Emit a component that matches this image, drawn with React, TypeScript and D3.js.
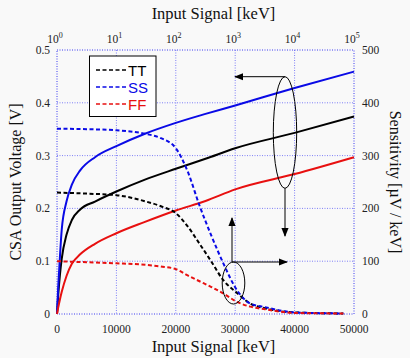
import React from 'react'
import * as d3 from 'd3'

// CSA output voltage [V] vs. input signal [keV] (linear, bottom/left axes)
const inputKeV = [0, 200, 500, 800, 1600, 2500, 3900, 6400, 10000, 14700, 20000, 25000, 30000, 40000, 50000]
const voltTT = [0, 0.035, 0.075, 0.105, 0.15, 0.178, 0.198, 0.213, 0.232, 0.254, 0.275, 0.294, 0.314, 0.343, 0.374]
const voltSS = [0, 0.05, 0.11, 0.16, 0.213, 0.245, 0.272, 0.297, 0.318, 0.341, 0.362, 0.379, 0.395, 0.428, 0.459]
const voltFF = [0, 0.012, 0.028, 0.042, 0.072, 0.095, 0.113, 0.133, 0.153, 0.174, 0.196, 0.214, 0.236, 0.265, 0.297]

// Sensitivity [uV/keV] vs. input signal (log, top/right axes), exponent of 10
const inputExp = [0, 0.5, 1, 1.5, 1.75, 2, 2.2, 2.4, 2.6, 2.8, 3.03, 3.25, 3.5, 4, 4.82]
const sensTT = [230, 228, 225, 213, 204, 191, 166, 133, 99, 64, 40, 20, 11, 3, 1]
const sensSS = [351, 350, 348, 341, 333, 314, 270, 205, 148, 96, 45, 20, 13, 3, 1]
const sensFF = [100, 98, 96, 93, 90, 85, 73, 62, 51, 39, 23, 14, 9, 2, 1]

const corners = ['TT', 'SS', 'FF']
const bottomTicks = [0, 10000, 20000, 30000, 40000, 50000]
const leftTicks = [0, 0.1, 0.2, 0.3, 0.4, 0.5]
const rightTicks = [0, 100, 200, 300, 400, 500]
const topExps = [0, 1, 2, 3, 4, 5]

const colors: Record<string, string> = { TT: '#000000', SS: '#0a0ae6', FF: '#e81010' }
const serif = '"Liberation Serif", "DejaVu Serif", serif'
const sans = '"Liberation Sans", Arial, sans-serif'

export default function App() {
  const width = 410
  const height = 358
  const m = { left: 57, right: 354, top: 50, bottom: 314 }

  const x = d3.scaleLinear().domain([0, 50000]).range([m.left, m.right])
  const xLog = d3.scaleLog().domain([1, 1e5]).range([m.left, m.right])
  const yL = d3.scaleLinear().domain([0, 0.5]).range([m.bottom, m.top])
  const yR = d3.scaleLinear().domain([0, 500]).range([m.bottom, m.top])

  const solid = d3.line<[number, number]>()
    .x(d => x(d[0])).y(d => yL(d[1])).curve(d3.curveMonotoneX)
  const dashed = d3.line<[number, number]>()
    .x(d => xLog(Math.pow(10, d[0]))).y(d => yR(d[1])).curve(d3.curveMonotoneX)

  const volts: Record<string, number[]> = { TT: voltTT, SS: voltSS, FF: voltFF }
  const sens: Record<string, number[]> = { TT: sensTT, SS: sensSS, FF: sensFF }
  const grid = '#7f7ff5'

  return (
    <svg width={width} height={height} style={{ position: 'absolute', left: 0, top: 0, background: '#f9f9f9' }}>
      <rect x={0} y={0} width={width} height={height} fill="#f9f9f9" />
      <defs>
        <marker id="arr" viewBox="0 0 10 10" refX={9} refY={5} markerWidth={9} markerHeight={9}
          markerUnits="userSpaceOnUse" orient="auto">
          <path d="M0,1 L10,5 L0,9 z" fill="#000" />
        </marker>
      </defs>

      {/* grid */}
      {bottomTicks.slice(1, -1).map(t => (
        <line key={'gx' + t} x1={x(t)} x2={x(t)} y1={m.top} y2={m.bottom}
          stroke={grid} strokeWidth={1} strokeDasharray="1,1.5" />
      ))}
      {leftTicks.slice(1, -1).map(t => (
        <line key={'gy' + t} x1={m.left} x2={m.right} y1={yL(t)} y2={yL(t)}
          stroke={grid} strokeWidth={1} strokeDasharray="1,1.5" />
      ))}
      <rect x={m.left} y={m.top} width={m.right - m.left} height={m.bottom - m.top}
        fill="none" stroke="#3c3cf0" strokeWidth={1} strokeDasharray="1,1.5" />

      {/* tick labels */}
      {bottomTicks.map(t => (
        <text key={'bx' + t} x={x(t)} y={333} textAnchor="middle" fontFamily={serif} fontSize={11.5} fill="#222">{t}</text>
      ))}
      {leftTicks.map(t => (
        <text key={'ly' + t} x={50} y={yL(t) + 4} textAnchor="end" fontFamily={serif} fontSize={11.5} fill="#222">{t}</text>
      ))}
      {rightTicks.map(t => (
        <text key={'ry' + t} x={362} y={yR(t) + 4} textAnchor="start" fontFamily={serif} fontSize={11.5} fill="#222">{t}</text>
      ))}
      {topExps.map(e => (
        <text key={'tx' + e} x={xLog(Math.pow(10, e)) - 2} y={43} textAnchor="middle" fontFamily={serif} fontSize={11.5} fill="#222">
          10<tspan dy={-5} fontSize={8}>{e}</tspan>
        </text>
      ))}

      {/* axis titles */}
      <text x={(m.left + m.right) / 2 + 8} y={19} textAnchor="middle" fontFamily={serif} fontSize={16.5} fill="#111">Input Signal [keV]</text>
      <text x={(m.left + m.right) / 2 + 8} y={352} textAnchor="middle" fontFamily={serif} fontSize={16.5} fill="#111">Input Signal [keV]</text>
      <text transform={`translate(21,${(m.top + m.bottom) / 2}) rotate(-90)`} textAnchor="middle" fontFamily={serif} fontSize={16} fill="#111">CSA Output Voltage [V]</text>
      <text transform={`translate(390,${(m.top + m.bottom) / 2}) rotate(90)`} textAnchor="middle" fontFamily={serif} fontSize={16} fill="#111">Sensitivity [µV / keV]</text>

      {/* curves */}
      {corners.map(c => (
        <path key={'s' + c} d={solid(inputKeV.map((v, i) => [v, volts[c][i]] as [number, number])) || ''}
          fill="none" stroke={colors[c]} strokeWidth={2} />
      ))}
      {corners.map(c => (
        <path key={'d' + c} d={dashed(inputExp.map((v, i) => [v, sens[c][i]] as [number, number])) || ''}
          fill="none" stroke={colors[c]} strokeWidth={2} strokeDasharray="4,2.5" />
      ))}

      {/* annotations */}
      <ellipse cx={285} cy={132.5} rx={11.7} ry={55.8} fill="none" stroke="#000" strokeWidth={1} />
      <line x1={285} y1={76.7} x2={235} y2={76.7} stroke="#000" strokeWidth={1} markerEnd="url(#arr)" />
      <line x1={285} y1={188.3} x2={285} y2={236} stroke="#000" strokeWidth={1} markerEnd="url(#arr)" />
      <ellipse cx={233.5} cy={283} rx={11.3} ry={21} fill="none" stroke="#000" strokeWidth={1} />
      <line x1={232} y1={262} x2={232} y2={218} stroke="#000" strokeWidth={1} markerEnd="url(#arr)" />
      <line x1={232} y1={262} x2={287} y2={262} stroke="#000" strokeWidth={1} markerEnd="url(#arr)" />

      {/* legend */}
      <rect x={89.5} y={56} width={66.5} height={60.5} fill="#fff" stroke="#000" strokeWidth={1} />
      {corners.map((c, i) => (
        <g key={'lg' + c}>
          <line x1={96} x2={127} y1={70 + i * 17} y2={70 + i * 17} stroke={colors[c]} strokeWidth={1.5} strokeDasharray="4,2.5" />
          <text x={128} y={75.5 + i * 17} fontFamily={sans} fontSize={15} fill={colors[c]}>{c}</text>
        </g>
      ))}
    </svg>
  )
}
